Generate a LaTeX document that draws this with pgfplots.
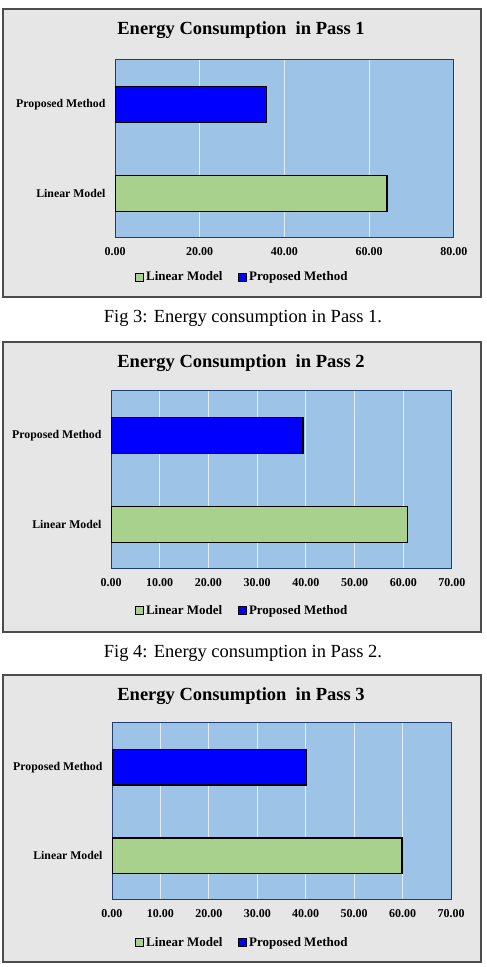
\documentclass[border=0pt]{standalone}
\usepackage{fontspec}
\setmainfont{Liberation Serif}
\usepackage{pgfplots}
\pgfplotsset{compat=1.18}
\definecolor{panelgray}{HTML}{E6E6E6}
\definecolor{plotblue}{HTML}{9DC3E6}
\definecolor{bargreen}{HTML}{A9D18E}
\definecolor{barblue}{HTML}{0000FF}
\definecolor{navy}{HTML}{1F3C70}
\pgfplotsset{
  energy/.style={
    anchor=south west, scale only axis, width=339pt, height=178pt,
    xbar, xmin=0, ymin=-0.5, ymax=1.5, ytick={0,1},
    yticklabels={Linear Model, Proposed Method},
    axis background/.style={fill=plotblue},
    axis line style={draw=navy, line width=1pt},
    xmajorgrids, major grid style={draw=white!70!plotblue, line width=0.9pt},
    major tick length=0pt,
    /pgf/number format/assume math mode=true,
    xticklabel={\pgfmathprintnumber[fixed,fixed zerofill,precision=2]{\tick}},
    xticklabel style={font=\bfseries\fontsize{12}{14}\selectfont, yshift=-6pt},
    yticklabel style={font=\bfseries\fontsize{11.8}{13}\selectfont, xshift=-6pt},
    legend columns=2,
    legend style={draw=none, fill=none, anchor=center,
      font=\bfseries\fontsize{13}{15}\selectfont,
      /tikz/every even column/.append style={column sep=14pt}},
    legend image code/.code={\draw[##1, line width=0.8pt] (0pt,-4pt) rectangle (8pt,4pt);},
  },
  linbar/.style={fill=bargreen, draw=black, line width=1.2pt, bar width=0.4, bar shift=0pt},
  probar/.style={fill=barblue, draw=black, line width=1.2pt, bar width=0.4, bar shift=0pt},
}
\begin{document}
\begin{tikzpicture}
\fill[white] (0pt,0pt) rectangle (487pt,967pt);
% panel frames
\draw[fill=panelgray, draw=black!70, line width=1.2pt] (3pt,670pt) rectangle (481pt,958pt);
\draw[fill=panelgray, draw=black!70, line width=1.2pt] (3pt,335pt) rectangle (481pt,625pt);
\draw[fill=panelgray, draw=black!70, line width=1.2pt] (3pt,5pt) rectangle (481pt,292pt);
% titles
\node[font=\bfseries\fontsize{18.5}{20}\selectfont] at (241pt,937pt) {Energy Consumption\ \ in Pass 1};
\node[font=\bfseries\fontsize{18.5}{20}\selectfont] at (241pt,604pt) {Energy Consumption\ \ in Pass 2};
\node[font=\bfseries\fontsize{18.5}{20}\selectfont] at (241pt,271pt) {Energy Consumption\ \ in Pass 3};
% captions
\node[font=\fontsize{18.5}{21}\selectfont] at (243pt,649pt) {Fig 3: Energy consumption in Pass 1.};
\node[font=\fontsize{18.5}{21}\selectfont] at (243pt,314pt) {Fig 4: Energy consumption in Pass 2.};

\begin{axis}[energy, at={(115pt,729pt)}, xmax=80, xtick={0,20,...,80},
  legend style={at={(0.376,-0.22)}}]
\addplot[linbar] coordinates {(64.2,0)};
\addplot[probar] coordinates {(35.8,1)};
\legend{Linear Model, Proposed Method}
\end{axis}

\begin{axis}[energy, at={(111pt,398pt)}, width=341pt, xmax=70, xtick={0,10,...,70},
  legend style={at={(0.385,-0.235)}}]
\addplot[linbar] coordinates {(60.8,0)};
\addplot[probar] coordinates {(39.4,1)};
\legend{Linear Model, Proposed Method}
\end{axis}

\begin{axis}[energy, at={(112pt,67pt)}, height=177pt, xmax=70, xtick={0,10,...,70},
  legend style={at={(0.385,-0.24)}}]
\addplot[linbar] coordinates {(59.9,0)};
\addplot[probar] coordinates {(40.1,1)};
\legend{Linear Model, Proposed Method}
\end{axis}
\end{tikzpicture}
\end{document}
